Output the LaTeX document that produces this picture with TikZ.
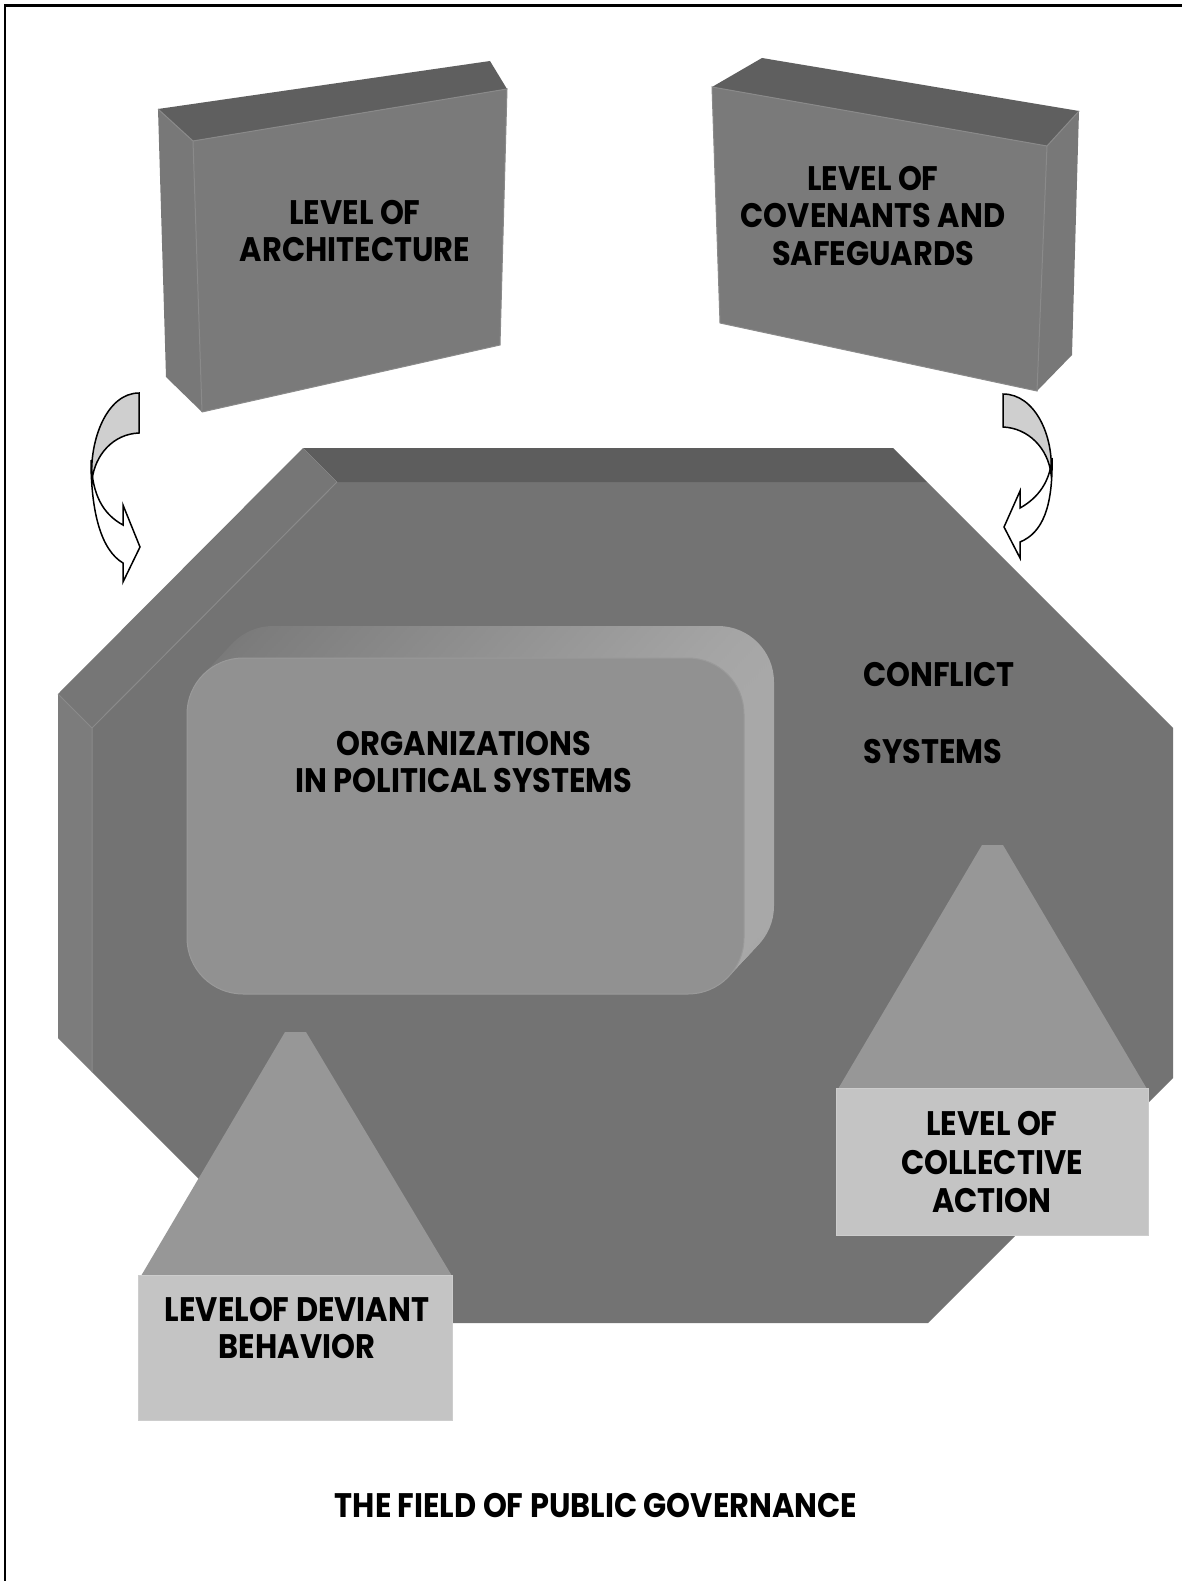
\documentclass[tikz,border=0pt]{standalone}
\usepackage{fontspec}
\newfontfamily\gothic{Poppins}[FakeStretch=0.895]
\definecolor{octfront}{HTML}{737373}
\definecolor{octtop}{HTML}{5D5D5D}
\definecolor{octdiag}{HTML}{767676}
\definecolor{octleft}{HTML}{7C7C7C}
\definecolor{hilite}{HTML}{8A8A8A}
\definecolor{boxfront}{HTML}{7A7A7A}
\definecolor{boxtop}{HTML}{5F5F5F}
\definecolor{boxside}{HTML}{787878}
\definecolor{orgfront}{HTML}{919191}
\definecolor{orgedge}{HTML}{9A9A9A}
\definecolor{orgdark}{HTML}{787878}
\definecolor{orglight}{HTML}{A8A8A8}
\definecolor{trifill}{HTML}{979797}
\definecolor{labfill}{HTML}{C4C4C4}
\definecolor{labedge}{HTML}{CDCDCD}
\definecolor{arrshade}{HTML}{CFCFCF}
\tikzset{
  lbl/.style={font=\gothic\bfseries\fontsize{34}{37.5}\selectfont, align=center, inner sep=0pt, text=black},
  arrline/.style={draw=black, line width=1.5pt, line join=miter},
}
\begin{document}
\begin{tikzpicture}[x=1pt,y=-1pt]
\useasboundingbox (0,0) rectangle (1182,1581);
\fill[white] (0,0) rectangle (1182,1581);
\draw[line width=2.2pt] (5.3,1600) -- (5.3,5.5) -- (1200,5.5);

% big octagon
\fill[octfront] (337,482) -- (927,482) -- (1173,728) -- (1173,1078) -- (928,1323) -- (343,1323) -- (92,1072) -- (92,728) -- cycle;
\fill[octtop] (303,448) -- (893,448) -- (927,482) -- (337,482) -- cycle;
\fill[octdiag] (58,694) -- (303,448) -- (337,482) -- (92,728) -- cycle;
\fill[octleft] (58,694) -- (92,728) -- (92,1072) -- (58,1038) -- cycle;
\draw[hilite, line width=1pt] (92,1072) -- (92,728) -- (337,482);
\draw[hilite, line width=0.8pt] (58,694) -- (92,728);

% rounded box with extrusion
\foreach \i in {16,15,...,1}{
  \shade[left color=orgdark, right color=orglight, rounded corners=56pt,
         shift={(1.875*\i,-2*\i)}] (187,658) rectangle (744,994);
}
\fill[orgfront, rounded corners=56pt] (187,658) rectangle (744,994);
\draw[orgedge, line width=1pt, rounded corners=56pt] (187,658) rectangle (744,994);
\node[lbl] (org) at (464,762) {ORGANIZATIONS\\IN POLITICAL SYSTEMS};

% conflict systems
\node[lbl] (conf) at (939,675) {CONFLICT};
\node[lbl] (sys) at (933,752) {SYSTEMS};

% left triangle
\fill[trifill] (285,1032) -- (306,1032) -- (452,1276) -- (141,1276) -- cycle;
\fill[labfill] (138,1275) rectangle (452,1420);
\draw[labedge, line width=1pt] (138,1275) rectangle (452,1420);
\node[lbl] (dev) at (297,1328) {LEVELOF DEVIANT\\BEHAVIOR};

% right triangle
\fill[trifill] (982,845) -- (1003,845) -- (1147,1089) -- (838,1089) -- cycle;
\fill[labfill] (836,1088) rectangle (1148,1235);
\draw[labedge, line width=1pt] (836,1088) rectangle (1148,1235);
\node[lbl, font=\gothic\bfseries\fontsize{34}{38.5}\selectfont] (col) at (992,1162) {LEVEL OF\\COLLECTIVE\\ACTION};

% top left box
\fill[boxtop] (158,109) -- (490,61) -- (507,89) -- (193,141) -- cycle;
\fill[boxside] (158,109) -- (193,141) -- (202,412) -- (166,377) -- cycle;
\fill[boxfront] (193,141) -- (507,89) -- (500,345) -- (202,412) -- cycle;
\draw[hilite, line width=1pt] (158,109) -- (193,141) -- (202,412);
\draw[hilite, line width=1pt] (193,141) -- (507,89) -- (500,345) -- (202,412);
\node[lbl] (arch) at (355,231) {LEVEL OF\\ARCHITECTURE};

% top right box
\fill[boxtop] (712,87) -- (762,58) -- (1079,111) -- (1047,146) -- cycle;
\fill[boxside] (1047,146) -- (1079,111) -- (1072,355) -- (1037,391) -- cycle;
\fill[boxfront] (712,87) -- (1047,146) -- (1037,391) -- (720,323) -- cycle;
\draw[hilite, line width=1pt] (712,87) -- (1047,146) -- (1037,391) -- (720,323) -- cycle;
\draw[hilite, line width=1pt] (1047,146) -- (1079,111);
\node[lbl] (cov) at (873,216) {LEVEL OF\\COVENANTS AND\\SAFEGUARDS};

% left curved arrow
\fill[white] (91,460) .. controls (91,512) and (101,550) .. (123,563) -- (123,582) -- (140,547) -- (123,505) -- (123,525) .. controls (103,514) and (92,495) .. (91,460) -- cycle;
\fill[arrshade] (139,393) -- (139,433) .. controls (113,434) and (95,455) .. (92,480) .. controls (89,440) and (107,393) .. (139,393) -- cycle;
\draw[arrline] (91,460) .. controls (91,512) and (101,550) .. (123,563) -- (123,582) -- (140,547) -- (123,505) -- (123,525) .. controls (103,514) and (92,495) .. (91,460);
\draw[arrline] (139,393) -- (139,433) .. controls (113,434) and (95,455) .. (92,480) .. controls (89,440) and (107,393) .. (139,393) -- cycle;

% right curved arrow
\fill[white] (1052,458) .. controls (1053,508) and (1042,533) .. (1020,542) -- (1020,558) -- (1004,527) -- (1020,491) -- (1020,508) .. controls (1038,498) and (1050,482) .. (1052,458) -- cycle;
\fill[arrshade] (1003,394) -- (1003,427) .. controls (1028,428) and (1048,448) .. (1051,474) .. controls (1054,436) and (1035,394) .. (1003,394) -- cycle;
\draw[arrline] (1052,458) .. controls (1053,508) and (1042,533) .. (1020,542) -- (1020,558) -- (1004,527) -- (1020,491) -- (1020,508) .. controls (1038,498) and (1050,482) .. (1052,458);
\draw[arrline] (1003,394) -- (1003,427) .. controls (1028,428) and (1048,448) .. (1051,474) .. controls (1054,436) and (1035,394) .. (1003,394) -- cycle;

% title
\node[lbl] (title) at (596,1505) {THE FIELD OF PUBLIC GOVERNANCE};
\end{tikzpicture}
\end{document}
